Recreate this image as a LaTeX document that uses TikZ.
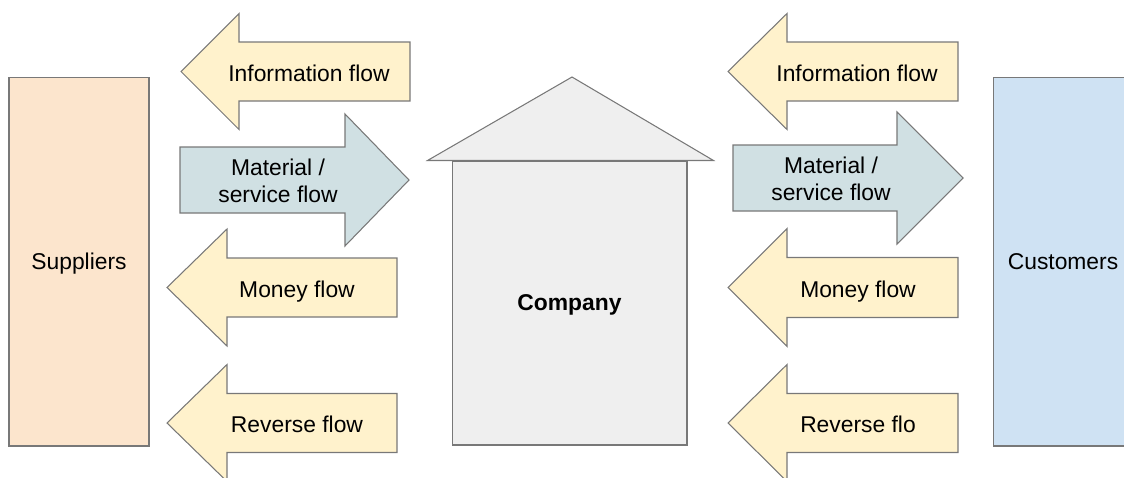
\documentclass[tikz,border=0pt]{standalone}
\usepackage{fontspec}
\setmainfont{Liberation Sans}
\definecolor{flowyellow}{HTML}{FFF2CC}
\definecolor{flowblue}{HTML}{D0E0E3}
\definecolor{supplierfill}{HTML}{FCE5CD}
\definecolor{customerfill}{HTML}{CFE2F3}
\definecolor{housefill}{HTML}{EFEFEF}
\definecolor{linegray}{HTML}{787878}
\tikzset{
  outline/.style={draw=linegray, line width=0.6pt},
  flowtext/.style={font=\fontsize{13}{15.3}\selectfont, align=center, inner sep=0pt},
  partner/.style={outline, minimum width=2.8cm, minimum height=7.38cm,
    text depth=0pt, font=\fontsize{13}{15.3}\selectfont},
}
% fill, tail x, head back x, tip x, centre y, shaft half, head half
\newcommand{\flowshape}[7]{%
  \filldraw[outline, fill=#1] ({#2},{#5-#6}) -- ({#3},{#5-#6}) -- ({#3},{#5-#7})
    -- ({#4},{#5}) -- ({#3},{#5+#7}) -- ({#3},{#5+#6}) -- ({#2},{#5+#6}) -- cycle;}
\begin{document}
\begin{tikzpicture}[x=0.02cm, y=-0.02cm]
\clip (0,0) rectangle (1124,477);
% Suppliers and customers
\node[partner, fill=supplierfill] (suppliers) at (79,261.5) {Suppliers};
\node[partner, fill=customerfill] (customers) at (1063,261.5) {Customers};
% Company building
\node[outline, fill=housefill, minimum width=4.7cm, minimum height=5.68cm, text depth=0pt,
  font=\fontsize{13}{15.3}\selectfont\bfseries] (company) at (569.5,303) {Company};
\filldraw[outline, fill=housefill] ([xshift=-0.48cm]company.north west)
  -- (572,77) -- ([xshift=0.52cm]company.north east) -- cycle;
% Flows between suppliers and company
\flowshape{flowyellow}{410}{239}{181}{71.5}{29.5}{58}
\flowshape{flowblue}{180}{345}{409}{180}{33}{66}
\flowshape{flowyellow}{397}{227}{167}{287.5}{29.5}{58.5}
\flowshape{flowyellow}{397}{227}{167}{423}{29.5}{58.5}
\node[flowtext, anchor=base] (infoL) at (309,81) {Information flow};
\node[flowtext] (materialL) at (278,181) {Material /\\service flow};
\node[flowtext, anchor=base] (moneyL) at (297,297) {Money flow};
\node[flowtext, anchor=base] (reverseL) at (297,432) {Reverse flow};
% Flows between company and customers
\flowshape{flowyellow}{958}{787}{728}{71.5}{29.5}{58}
\flowshape{flowblue}{733}{897}{963}{178}{33}{66}
\flowshape{flowyellow}{958}{787}{728}{287.5}{30}{59}
\flowshape{flowyellow}{958}{787}{728}{423}{29.5}{58.5}
\node[flowtext, anchor=base] (infoR) at (857,81) {Information flow};
\node[flowtext] (materialR) at (831,179) {Material /\\service flow};
\node[flowtext, anchor=base] (moneyR) at (858,297) {Money flow};
\node[flowtext, anchor=base] (reverseR) at (858,432) {Reverse flo};
\end{tikzpicture}
\end{document}
